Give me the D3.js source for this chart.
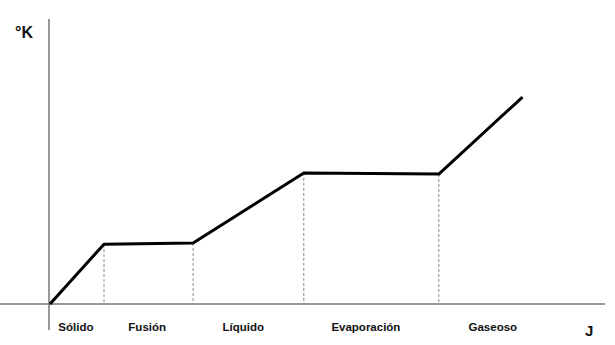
<!DOCTYPE html>
<html>
<head>
<meta charset="utf-8">
<script src="https://cdn.jsdelivr.net/npm/d3@7"></script>
<style>
  body { margin: 0; background: #fff; }
  svg text { font-family: "Liberation Sans", Arial, sans-serif; font-weight: bold; fill: #111; }
</style>
</head>
<body>
<svg id="chart" width="615" height="345"></svg>
<script>
// ─── Heating curve (temperature vs. energy) ───────────────────────────────────
const energy = [0, 10, 26.5, 47, 72, 87.5];
const temp   = [0, 21, 21.4, 46, 45.6, 72.6];
const phases = ['Sólido', 'Fusión', 'Líquido', 'Evaporación', 'Gaseoso'];
const phaseMid = [4.8, 18, 35.8, 58.5, 82];

const W = 615, H = 345;
const x = d3.scaleLinear().domain([0, 100]).range([50, 590]);
const y = d3.scaleLinear().domain([0, 100]).range([304, 19]);

const svg = d3.select('#chart');
const pts = energy.map((e, i) => ({ e, t: temp[i] }));

// axes
svg.append('line').attr('x1', 0).attr('x2', 605).attr('y1', y(0)).attr('y2', y(0))
  .attr('stroke', '#777').attr('stroke-width', 1.5);
svg.append('line').attr('x1', 49).attr('x2', 49).attr('y1', y(100)).attr('y2', 330)
  .attr('stroke', '#777').attr('stroke-width', 1.5);

// dashed drops at each phase change
svg.selectAll('.drop').data(pts.slice(1, 5)).enter().append('line')
  .attr('class', 'drop')
  .attr('x1', d => x(d.e)).attr('x2', d => x(d.e))
  .attr('y1', d => y(d.t)).attr('y2', y(0))
  .attr('stroke', '#888').attr('stroke-width', 1).attr('stroke-dasharray', '3,2');

// curve
svg.append('path').datum(pts)
  .attr('d', d3.line().x(d => x(d.e)).y(d => y(d.t)))
  .attr('fill', 'none').attr('stroke', '#000').attr('stroke-width', 3)
  .attr('stroke-linejoin', 'round');

// phase labels
svg.selectAll('.phase').data(phases).enter().append('text')
  .attr('class', 'phase')
  .attr('x', (d, i) => x(phaseMid[i])).attr('y', 331)
  .attr('text-anchor', 'middle').attr('font-size', 11.5)
  .text(d => d);

// axis titles
svg.append('text').attr('x', 15).attr('y', 38).attr('font-size', 16).text('°K');
svg.append('text').attr('x', 585).attr('y', 336).attr('font-size', 15).text('J');
</script>
</body>
</html>
